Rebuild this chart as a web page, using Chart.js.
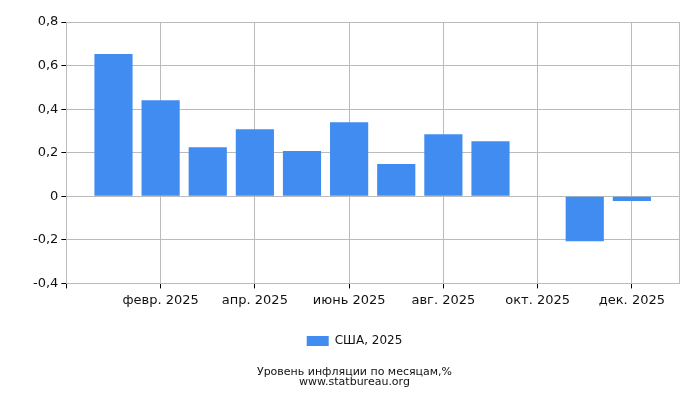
<!DOCTYPE html>
<html><head><meta charset="utf-8">
<script src="https://cdn.jsdelivr.net/npm/chart.js@4/dist/chart.umd.min.js"></script>
<style>html,body{margin:0;padding:0;background:#fff}#wrap{width:700px;height:400px}</style>
</head><body><div id="wrap"><canvas id="c" width="700" height="400"></canvas></div>
<script>
const monthLabels = ['дек. 2024','янв. 2025','февр. 2025','март 2025','апр. 2025','май 2025','июнь 2025','июль 2025','авг. 2025','сент. 2025','окт. 2025','нояб. 2025','дек. 2025','янв. 2026'];
const monthIndex = [1,2,3,4,5,6,7,8,9,10,11,12];
const inflation = [0.653, 0.441, 0.225, 0.308, 0.208, 0.340, 0.148, 0.285, 0.253, null, -0.207, -0.022];
const seriesName = 'США, 2025';
const titleLines = ['Уровень инфляции по месяцам,%', 'www.statbureau.org'];
const yTicks = [-0.4, -0.2, 0, 0.2, 0.4, 0.6, 0.8];
const xTicks = [0, 2, 4, 6, 8, 10, 12];

Chart.defaults.font.family = '"DejaVu Sans", sans-serif';
Chart.defaults.color = '#111';

new Chart(document.getElementById('c'), {
  type: 'bar',
  data: {
    datasets: [{
      label: seriesName,
      data: monthIndex.map((m, i) => ({x: m, y: inflation[i]})),
      backgroundColor: '#418cf0',
      borderWidth: 0,
      barPercentage: 0.9,
      categoryPercentage: 0.9
    }]
  },
  options: {
    responsive: false,
    animation: false,
    layout: {padding: {left: 30, right: 21, top: 22, bottom: 13}},
    scales: {
      x: {
        type: 'linear', min: 0, max: 13, offset: false,
        afterBuildTicks: s => { s.ticks = xTicks.map(v => ({value: v})); },
        afterFit: s => { s.height += 9; },
        ticks: {
          autoSkip: false, maxRotation: 0, padding: 4,
          font: {size: 13},
          callback: v => v === 0 ? '' : monthLabels[v]
        },
        grid: {offset: false, color: '#bbb', tickColor: '#000', tickLength: 5, lineWidth: 1},
        border: {color: '#bbb'}
      },
      y: {
        min: -0.4, max: 0.8,
        afterBuildTicks: s => { s.ticks = yTicks.map(v => ({value: v})); },
        ticks: {
          padding: 3, font: {size: 13},
          callback: v => (Math.round(v * 10) / 10).toString().replace('.', ',')
        },
        grid: {color: '#bbb', tickColor: '#000', tickLength: 5},
        border: {color: '#bbb'}
      },
      yr: {
        position: 'right', min: -0.4, max: 0.8,
        ticks: {display: false},
        grid: {drawOnChartArea: false, drawTicks: false},
        border: {color: '#bbb'}
      }
    },
    plugins: {
      legend: {
        position: 'bottom',
        labels: {boxWidth: 22, boxHeight: 10, font: {size: 12}, padding: 14}
      },
      title: {
        display: true, position: 'bottom', text: titleLines,
        font: {size: 11, weight: 'normal', lineHeight: '10px'}, color: '#111',
        padding: {top: 10, bottom: 0}
      },
      tooltip: {enabled: false}
    }
  }
});
</script></body></html>
